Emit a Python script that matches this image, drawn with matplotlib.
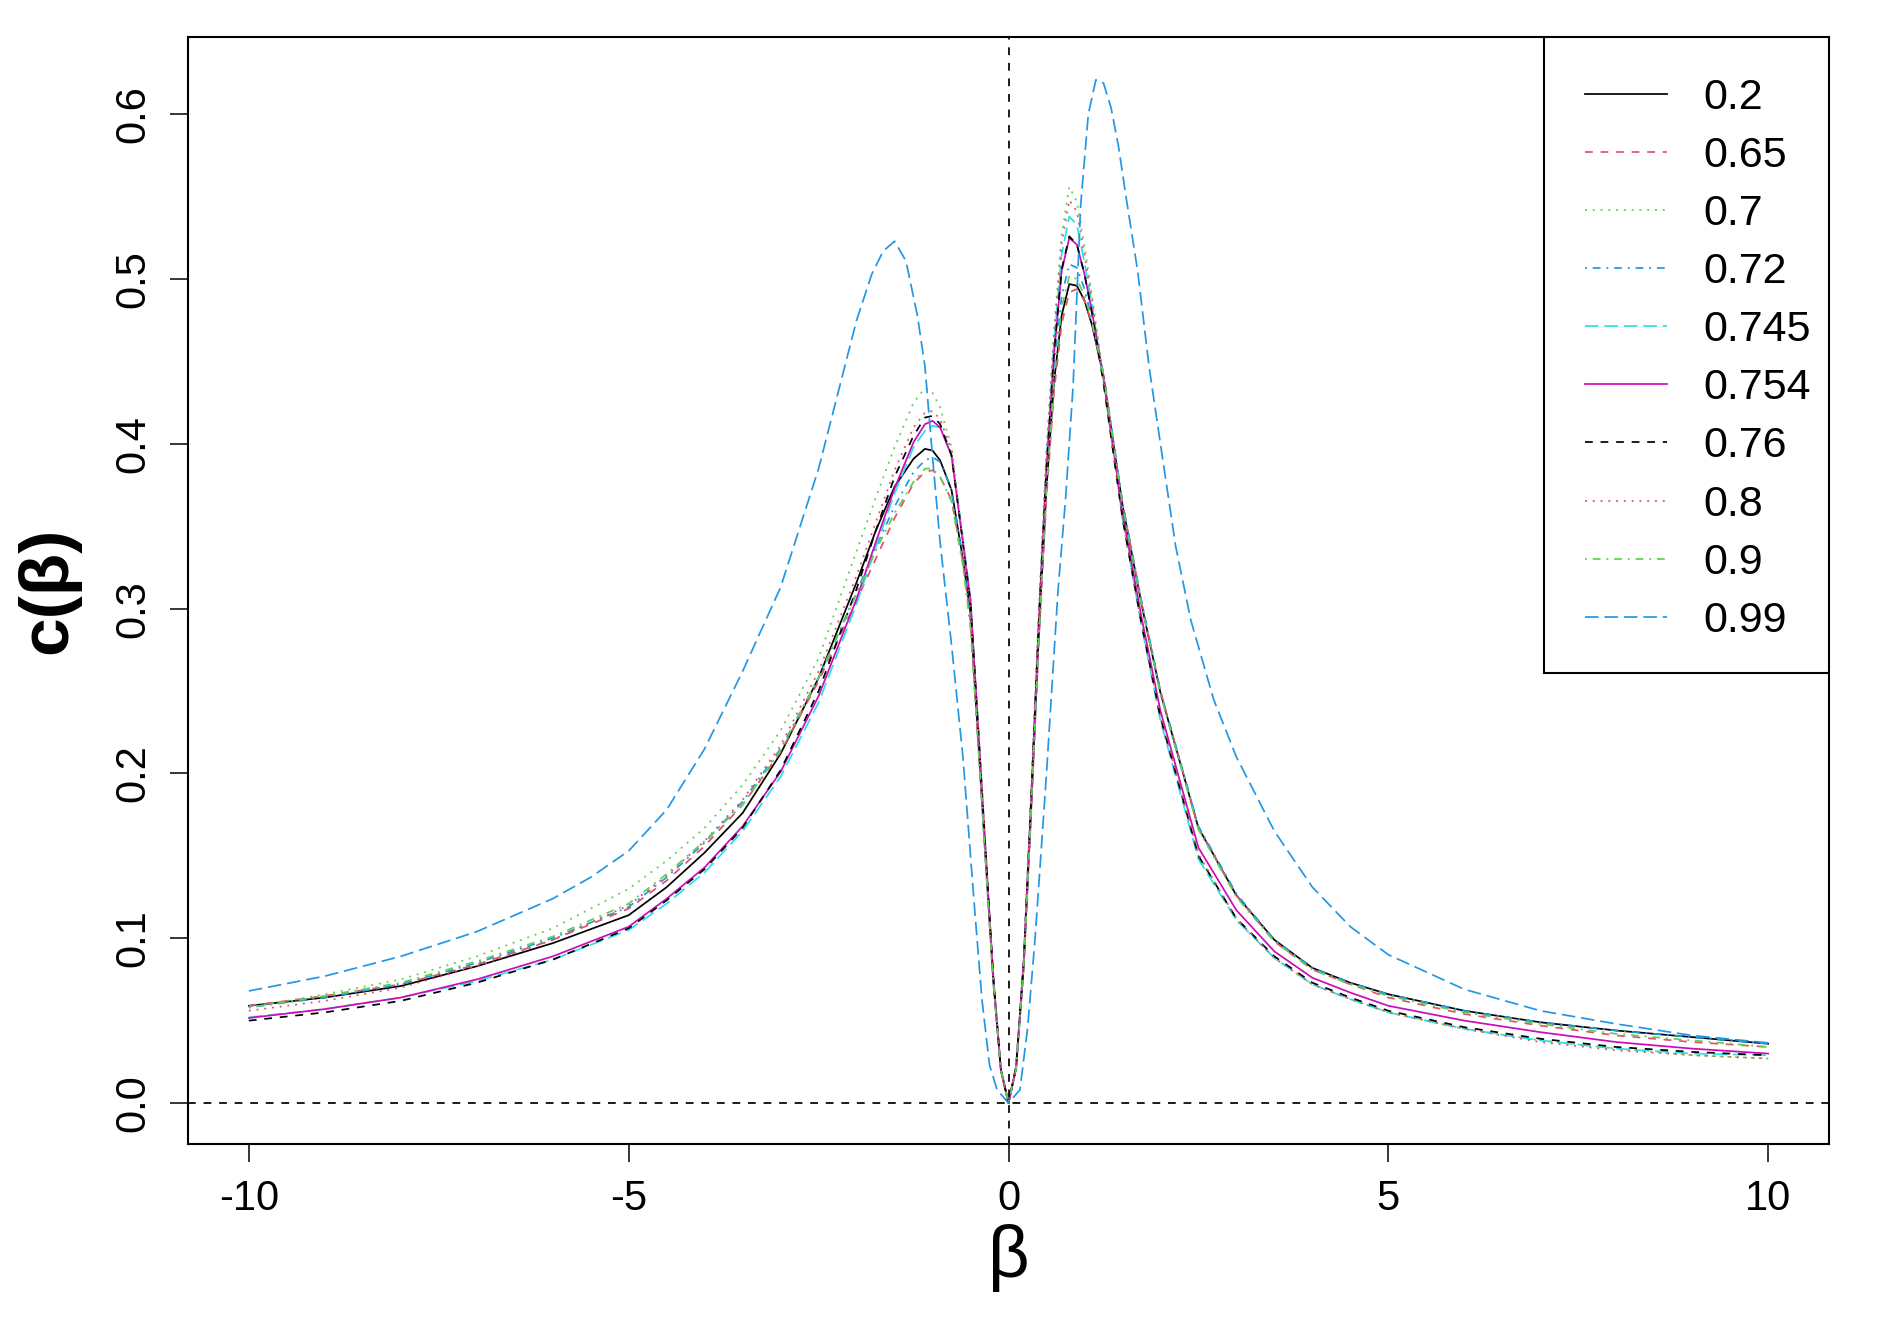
import matplotlib
matplotlib.use('Agg')
import matplotlib.pyplot as plt
from matplotlib.patches import Rectangle

plt.rcParams['font.family'] = ['Liberation Sans', 'DejaVu Sans']
plt.rcParams['axes.unicode_minus'] = False
plt.rcParams['lines.scale_dashes'] = False

# beta grid shared by the nine clustered curves
beta = [-10, -9, -8, -7, -6, -5, -4.5, -4, -3.5, -3, -2.5, -2, -1.75, -1.5, -1.25, -1.1, -1, -0.9, -0.75, -0.6,
        -0.5, -0.35, -0.2, -0.1, 0,
        0.1, 0.2, 0.3, 0.4, 0.5, 0.6, 0.7, 0.8, 0.9, 1, 1.1, 1.25, 1.5, 1.75, 2, 2.5, 3, 3.5, 4, 4.5, 5,
        6, 7, 8, 9, 10]

c_020 = [0.059, 0.064, 0.071, 0.083, 0.097, 0.114, 0.131, 0.152, 0.176, 0.212, 0.258, 0.316, 0.347, 0.374, 0.391,
         0.397, 0.396, 0.390, 0.372, 0.330, 0.297, 0.183, 0.074, 0.020, 0.0,
         0.021, 0.083, 0.180, 0.285, 0.373, 0.438, 0.478, 0.497, 0.496, 0.487, 0.472, 0.441, 0.363, 0.303, 0.249,
         0.167, 0.126, 0.099, 0.082, 0.073, 0.066, 0.056, 0.049, 0.044, 0.040, 0.036]
c_065 = [0.059, 0.065, 0.072, 0.084, 0.099, 0.118, 0.135, 0.156, 0.181, 0.213, 0.256, 0.305, 0.330, 0.355, 0.376,
         0.383, 0.384, 0.380, 0.366, 0.328, 0.292, 0.182, 0.073, 0.020, 0.0,
         0.021, 0.082, 0.178, 0.281, 0.368, 0.432, 0.473, 0.492, 0.494, 0.487, 0.473, 0.442, 0.364, 0.304, 0.250,
         0.167, 0.126, 0.098, 0.081, 0.072, 0.064, 0.054, 0.047, 0.041, 0.037, 0.034]
c_070 = [0.058, 0.066, 0.075, 0.089, 0.106, 0.130, 0.147, 0.167, 0.193, 0.226, 0.270, 0.335, 0.367, 0.398, 0.425,
         0.434, 0.431, 0.422, 0.398, 0.340, 0.300, 0.188, 0.076, 0.020, 0.0,
         0.022, 0.088, 0.190, 0.300, 0.397, 0.470, 0.527, 0.556, 0.547, 0.520, 0.490, 0.440, 0.355, 0.292, 0.234,
         0.150, 0.111, 0.088, 0.072, 0.063, 0.055, 0.045, 0.038, 0.033, 0.029, 0.027]
c_072 = [0.058, 0.064, 0.072, 0.085, 0.100, 0.119, 0.137, 0.158, 0.183, 0.215, 0.258, 0.310, 0.337, 0.362, 0.383,
         0.390, 0.392, 0.389, 0.372, 0.330, 0.292, 0.183, 0.074, 0.020, 0.0,
         0.021, 0.083, 0.181, 0.287, 0.378, 0.447, 0.490, 0.509, 0.507, 0.494, 0.476, 0.443, 0.365, 0.305, 0.250,
         0.168, 0.127, 0.099, 0.082, 0.073, 0.066, 0.056, 0.049, 0.044, 0.040, 0.036]
c_0745 = [0.052, 0.057, 0.064, 0.074, 0.087, 0.105, 0.121, 0.140, 0.165, 0.198, 0.243, 0.303, 0.337, 0.370, 0.398,
          0.408, 0.411, 0.410, 0.393, 0.343, 0.306, 0.190, 0.076, 0.020, 0.0,
          0.022, 0.086, 0.187, 0.295, 0.390, 0.462, 0.515, 0.538, 0.533, 0.510, 0.484, 0.438, 0.355, 0.290, 0.232,
          0.148, 0.111, 0.088, 0.072, 0.063, 0.055, 0.045, 0.038, 0.033, 0.030, 0.029]
c_0754 = [0.0516, 0.057, 0.064, 0.075, 0.089, 0.107, 0.124, 0.143, 0.168, 0.201, 0.247, 0.306, 0.340, 0.373, 0.401,
          0.412, 0.414, 0.410, 0.393, 0.340, 0.305, 0.190, 0.076, 0.020, 0.0,
          0.022, 0.086, 0.186, 0.293, 0.385, 0.455, 0.505, 0.525, 0.521, 0.503, 0.480, 0.440, 0.358, 0.295, 0.238,
          0.155, 0.117, 0.092, 0.076, 0.067, 0.059, 0.050, 0.043, 0.037, 0.033, 0.030]
c_076 = [0.050, 0.055, 0.062, 0.073, 0.087, 0.106, 0.123, 0.142, 0.167, 0.202, 0.250, 0.312, 0.347, 0.380, 0.405,
         0.416, 0.417, 0.412, 0.393, 0.340, 0.303, 0.190, 0.076, 0.020, 0.0,
         0.022, 0.086, 0.187, 0.294, 0.386, 0.456, 0.506, 0.526, 0.521, 0.503, 0.479, 0.437, 0.355, 0.291, 0.234,
         0.150, 0.112, 0.089, 0.073, 0.064, 0.056, 0.046, 0.039, 0.034, 0.031, 0.029]
c_080 = [0.056, 0.062, 0.070, 0.083, 0.099, 0.120, 0.138, 0.159, 0.184, 0.217, 0.262, 0.320, 0.352, 0.384, 0.410,
         0.419, 0.420, 0.415, 0.396, 0.340, 0.302, 0.190, 0.076, 0.020, 0.0,
         0.022, 0.087, 0.189, 0.298, 0.394, 0.466, 0.522, 0.548, 0.541, 0.515, 0.487, 0.439, 0.355, 0.291, 0.235,
         0.151, 0.112, 0.088, 0.072, 0.063, 0.055, 0.045, 0.037, 0.032, 0.029, 0.027]
c_090 = [0.058, 0.065, 0.073, 0.086, 0.101, 0.121, 0.139, 0.159, 0.181, 0.214, 0.258, 0.309, 0.335, 0.358, 0.377,
         0.385, 0.385, 0.380, 0.365, 0.326, 0.288, 0.182, 0.073, 0.020, 0.0,
         0.021, 0.083, 0.180, 0.284, 0.372, 0.440, 0.483, 0.502, 0.500, 0.490, 0.474, 0.442, 0.363, 0.303, 0.248,
         0.166, 0.125, 0.098, 0.081, 0.072, 0.065, 0.055, 0.048, 0.042, 0.038, 0.034]

# the 0.99 curve is much wider, read on its own grid
beta_099 = [-10, -9, -8, -7, -6, -5.5, -5, -4.5, -4, -3.5, -3, -2.5, -2.25, -2, -1.8, -1.65, -1.5, -1.35, -1.2, -1.1,
            -1.0, -0.9, -0.75, -0.6, -0.45, -0.35, -0.25, -0.15, 0,
            0.15, 0.25, 0.35, 0.5, 0.65, 0.75, 0.85, 0.95, 1.05, 1.15, 1.25, 1.35, 1.45, 1.55,
            1.7, 1.85, 2.0, 2.2, 2.4, 2.7, 3, 3.5, 4, 4.5, 5, 6, 7, 8, 9, 10]
c_099 = [0.068, 0.077, 0.089, 0.104, 0.124, 0.137, 0.153, 0.178, 0.215, 0.262, 0.313, 0.385, 0.430, 0.475, 0.503,
         0.517, 0.523, 0.511, 0.478, 0.447, 0.392, 0.340, 0.278, 0.210, 0.120, 0.063, 0.023, 0.008, 0.0,
         0.008, 0.045, 0.100, 0.200, 0.310, 0.366, 0.435, 0.545, 0.600, 0.621, 0.619, 0.604, 0.580, 0.549,
         0.505, 0.447, 0.400, 0.338, 0.293, 0.245, 0.210, 0.165, 0.131, 0.107, 0.090, 0.069, 0.056, 0.048, 0.041,
         0.0365]

labels = ['0.2', '0.65', '0.7', '0.72', '0.745', '0.754', '0.76', '0.8', '0.9', '0.99']
series = [c_020, c_065, c_070, c_072, c_0745, c_0754, c_076, c_080, c_090, c_099]

# R palette, cols 1:6 and lty 1:5 recycled
pal = ['black', '#DF536B', '#61D04F', '#2297E6', '#28E2E5', '#CD0BBC']
u = 1.4
ltys = ['-', (0, (4 * u, 4 * u)), (0, (1 * u, 3 * u)), (0, (1 * u, 3 * u, 4 * u, 3 * u)), (0, (7 * u, 3 * u))]

fig = plt.figure(figsize=(18.77, 13.2), dpi=100)
ax = fig.add_axes([0.1002, 0.1333, 0.8742, 0.8386])

for i, (lab, vals) in enumerate(zip(labels, series)):
    xs = beta_099 if lab == '0.99' else beta
    ax.plot(xs, vals, color=pal[i % 6], linestyle=ltys[i % 5], linewidth=1.25, label=lab)

ax.axhline(0, color='black', linestyle=(0, (4 * u, 4 * u)), linewidth=1.25)
ax.axvline(0, color='black', linestyle=(0, (4 * u, 4 * u)), linewidth=1.25)

ax.set_xlim(-10.8, 10.8)
ax.set_ylim(-0.0249, 0.6469)
ax.set_xticks([-10, -5, 0, 5, 10])
ax.set_yticks([0.0, 0.1, 0.2, 0.3, 0.4, 0.5, 0.6])
ax.set_yticklabels(['0.0', '0.1', '0.2', '0.3', '0.4', '0.5', '0.6'], rotation=90, va='center')
ax.tick_params(direction='out', length=13, width=1.1, labelsize=30, pad=12)
for sp in ax.spines.values():
    sp.set_linewidth(1.5)

ax.set_xlabel('β', fontsize=52, labelpad=4)
ax.set_ylabel('c(β)', fontsize=50, fontweight='bold', labelpad=24)

# legend box like R's topright legend: frame drawn by hand, tighter on the right
box = Rectangle((0.8263, 0.4255), 1 - 0.8263, 1 - 0.4255, transform=ax.transAxes,
                facecolor='white', edgecolor='black', linewidth=1.5, zorder=4)
ax.add_patch(box)
leg = ax.legend(loc='upper right', bbox_to_anchor=(1.014, 1.0), fontsize=31, frameon=False,
                borderaxespad=0, handlelength=1.9, handletextpad=0.85,
                labelspacing=0.42, borderpad=0.95)
leg.set_zorder(5)

fig.savefig('out.png', dpi=100)
